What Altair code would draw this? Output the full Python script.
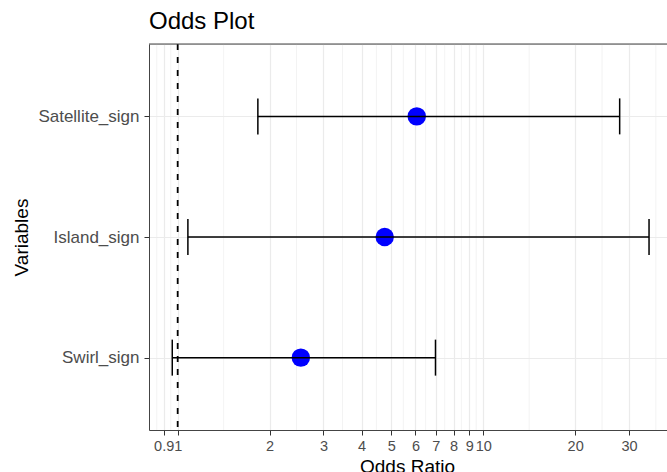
import altair as alt
import pandas as pd

variables = ["Satellite_sign", "Island_sign", "Swirl_sign"]
odds = [6.06, 4.76, 2.53]
lower = [1.83, 1.08, 0.96]
upper = [27.97, 34.9, 6.98]
tick_values = [0.9, 1, 2, 3, 4, 5, 6, 7, 8, 9, 10, 20, 30]
minor_breaks = [0.854, 0.949, 1.414, 2.449, 3.464, 4.472, 5.477, 6.481,
                7.483, 8.485, 9.487, 14.14, 24.49, 36.74]
ref_line = [1]

df = pd.DataFrame({"Variable": variables, "OR": odds, "Lower": lower, "Upper": upper})
minor_df = pd.DataFrame({"v": minor_breaks})
ref_df = pd.DataFrame({"v": ref_line})

W, H = 518, 386
x_scale = alt.Scale(type="log", domain=[0.8056, 39.96], nice=False)
y_scale = alt.Scale(type="point", padding=0.6, domain=variables)

x_axis = alt.Axis(values=tick_values, format="~g", labelOverlap=False, labelFlush=False,
                  grid=True, gridColor="#ebebeb", gridWidth=1.2,
                  tickSize=5, tickColor="#333333", tickWidth=1,
                  domainColor="#444444", domainWidth=1,
                  labelColor="#4d4d4d", labelFontSize=14.5, labelPadding=4,
                  title="Odds Ratio", titleFontSize=19, titleFontWeight="normal",
                  titleColor="black", titleBaseline="alphabetic", titleY=42, titleX=258)
y_axis = alt.Axis(grid=True, gridColor="#ebebeb", gridWidth=1.2,
                  tickSize=5, tickColor="#333333", tickWidth=1,
                  domainColor="#444444", domainWidth=1,
                  labelColor="#4d4d4d", labelFontSize=17, labelPadding=5,
                  title="Variables", titleFontSize=19, titleFontWeight="normal",
                  titleColor="black", titleX=-122, titleY=H / 2,
                  titleBaseline="alphabetic", titleAngle=270, titleAlign="center")

points = alt.Chart(df).mark_circle(size=340, color="#0000ff", opacity=1).encode(
    x=alt.X("OR:Q", scale=x_scale, axis=x_axis),
    y=alt.Y("Variable:N", scale=y_scale, axis=y_axis),
)

minor = alt.Chart(minor_df).mark_rule(color="#ebebeb", strokeWidth=0.6).encode(
    x=alt.X("v:Q", scale=x_scale, axis=x_axis)
)

bars = alt.Chart(df).mark_rule(color="black", strokeWidth=1.5).encode(
    x=alt.X("Lower:Q", scale=x_scale, axis=x_axis),
    x2="Upper:Q",
    y=alt.Y("Variable:N", scale=y_scale, axis=y_axis),
)

caps = alt.Chart(df).transform_fold(["Lower", "Upper"], as_=["end", "val"]).mark_tick(
    color="black", thickness=1.5, size=36, opacity=1
).encode(
    x=alt.X("val:Q", scale=x_scale, axis=x_axis),
    y=alt.Y("Variable:N", scale=y_scale, axis=y_axis),
)

vline = alt.Chart(ref_df).mark_rule(color="black", strokeWidth=1.8, strokeDash=[6, 7]).encode(
    x=alt.X("v:Q", scale=x_scale, axis=x_axis)
)

top_border = alt.Chart(ref_df).mark_rule(color="#444444", strokeWidth=1).encode(
    x=alt.value(0), x2=alt.value(W), y=alt.value(0)
)

chart = alt.layer(minor, points, bars, caps, vline, top_border).properties(
    width=W, height=H,
    autosize="none",
    padding={"left": 149, "top": 44, "right": 0, "bottom": 42},
    title=alt.TitleParams("Odds Plot", anchor="start", fontSize=24, fontWeight="normal",
                          color="black", offset=9, frame="group"),
).configure_view(strokeWidth=0).configure(font="Liberation Sans")

chart.save("out.html", embed_options={"renderer": "svg", "actions": False})
